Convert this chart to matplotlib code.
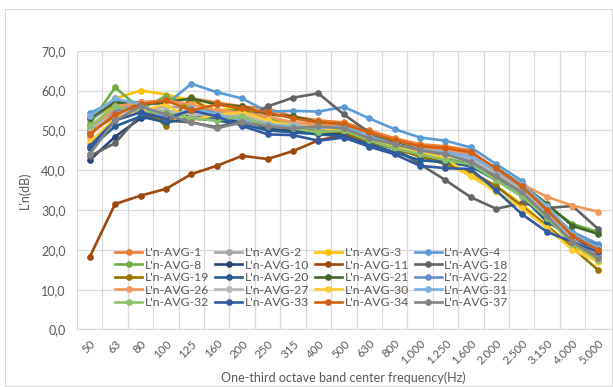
import matplotlib
matplotlib.use("Agg")
import matplotlib.pyplot as plt
from matplotlib.patches import Rectangle

plt.rcParams['font.family'] = ['Lato', 'DejaVu Sans']

freqs = ["50", "63", "80", "100", "125", "160", "200", "250", "315", "400", "500",
         "630", "800", "1.000", "1.250", "1.600", "2.000", "2.500", "3.150", "4.000", "5.000"]

names = ["L'n-AVG-1", "L'n-AVG-2", "L'n-AVG-3", "L'n-AVG-4", "L'n-AVG-8",
         "L'n-AVG-10", "L'n-AVG-11", "L'n-AVG-18", "L'n-AVG-19", "L'n-AVG-20",
         "L'n-AVG-21", "L'n-AVG-22", "L'n-AVG-26", "L'n-AVG-27", "L'n-AVG-30",
         "L'n-AVG-31", "L'n-AVG-32", "L'n-AVG-33", "L'n-AVG-34", "L'n-AVG-37"]

colors = ["#ED7D31", "#A5A5A5", "#FFC000", "#5B9BD5", "#70AD47",
          "#264478", "#9E480E", "#636363", "#997300", "#255E91",
          "#43682B", "#698ED0", "#F1975A", "#B7B7B7", "#FFCD33",
          "#7CAFDD", "#8CC168", "#335AA1", "#D26012", "#848484"]

avg1 = [50.5, 55.5, 57.0, 57.5, 58.0, 57.0, 56.0, 55.5, 53.5, 52.5, 52.0, 50.0, 48.0, 46.5, 46.0, 45.0, 39.5, 35.5, 30.5, 22.0, 19.0]
avg2 = [52.5, 56.5, 55.0, 56.0, 55.5, 54.0, 54.5, 53.0, 52.0, 51.5, 51.0, 49.5, 47.5, 45.5, 44.5, 43.5, 39.5, 35.5, 29.5, 23.0, 19.5]
avg3 = [48.0, 58.0, 60.0, 59.0, 57.5, 55.0, 56.0, 53.0, 51.5, 51.0, 50.5, 48.5, 46.0, 44.0, 42.0, 38.5, 36.0, 31.5, 26.0, 21.0, 17.5]
avg4 = [54.3, 57.5, 57.0, 56.5, 61.7, 59.6, 58.0, 54.7, 54.9, 54.7, 55.9, 53.0, 50.3, 48.2, 47.4, 45.7, 41.5, 37.4, 30.0, 24.5, 21.5]
avg8 = [51.5, 60.8, 55.3, 58.6, 55.5, 54.5, 55.5, 53.0, 51.0, 50.0, 50.5, 48.5, 46.5, 44.5, 43.0, 41.5, 38.0, 35.5, 31.0, 26.5, 24.5]
avg10 = [42.5, 48.4, 53.0, 53.5, 54.0, 53.0, 52.5, 50.5, 50.0, 49.5, 49.0, 47.0, 45.5, 43.5, 42.5, 41.5, 38.5, 34.5, 27.5, 22.5, 20.5]
avg11 = [18.2, 31.5, 33.6, 35.3, 39.0, 41.1, 43.6, 42.8, 44.8, 47.5, 48.8, 47.5, 45.5, 43.5, 42.5, 41.0, 38.0, 34.0, 28.0, 22.5, 18.5]
avg18 = [43.5, 46.8, 54.0, 52.5, 52.0, 50.8, 52.5, 56.0, 58.2, 59.3, 54.0, 49.5, 45.5, 41.5, 37.5, 33.2, 30.3, 31.7, 30.5, 31.0, 25.3]
avg19 = [49.5, 53.5, 57.0, 51.0, 58.3, 53.5, 55.5, 51.5, 50.5, 50.0, 49.5, 47.0, 45.5, 43.5, 41.5, 39.5, 36.0, 31.0, 26.0, 20.5, 15.0]
avg20 = [45.5, 51.0, 53.5, 52.0, 53.0, 52.5, 51.5, 50.0, 49.5, 49.0, 48.5, 46.5, 44.5, 42.5, 42.0, 41.0, 37.5, 33.5, 27.0, 23.5, 21.0]
avg21 = [53.0, 57.0, 56.5, 57.0, 58.0, 56.5, 56.0, 54.0, 53.5, 52.0, 51.5, 49.5, 47.0, 45.0, 44.0, 43.5, 40.5, 36.5, 31.5, 26.0, 24.0]
avg22 = [50.0, 55.0, 56.0, 53.5, 54.5, 55.0, 53.0, 51.5, 51.0, 50.5, 51.0, 48.5, 46.0, 44.5, 44.0, 42.5, 38.5, 34.0, 28.5, 23.0, 21.0]
avg26 = [48.5, 56.0, 57.0, 57.5, 56.5, 55.0, 54.5, 53.5, 52.0, 51.5, 51.5, 49.5, 47.5, 46.0, 45.0, 44.0, 40.0, 36.5, 33.3, 31.1, 29.6]
avg27 = [50.5, 54.0, 55.5, 55.0, 54.0, 53.5, 54.0, 52.0, 51.5, 50.5, 50.0, 48.0, 46.5, 45.0, 44.5, 43.0, 39.0, 35.0, 29.0, 22.5, 19.0]
avg30 = [47.0, 53.0, 55.0, 56.5, 52.5, 54.0, 54.5, 52.5, 51.0, 50.5, 50.0, 48.0, 46.0, 44.5, 43.0, 38.5, 34.5, 30.5, 25.5, 20.0, 17.0]
avg31 = [53.5, 58.0, 56.5, 53.0, 55.5, 54.0, 52.5, 51.5, 51.0, 50.5, 51.0, 48.5, 46.5, 45.0, 44.5, 43.5, 40.0, 36.5, 31.0, 24.0, 20.5]
avg32 = [51.0, 56.0, 54.5, 54.5, 53.0, 52.5, 53.5, 51.0, 50.5, 49.5, 50.0, 47.5, 45.5, 44.0, 42.5, 41.5, 37.5, 33.5, 28.0, 21.5, 17.5]
avg33 = [46.0, 52.5, 54.5, 53.0, 55.0, 53.5, 51.1, 49.0, 48.8, 47.4, 48.2, 45.9, 44.0, 41.1, 40.5, 40.3, 34.9, 29.0, 24.5, 22.0, 19.5]
avg34 = [49.0, 54.0, 56.5, 57.5, 55.0, 56.5, 55.5, 54.5, 53.0, 52.0, 51.5, 49.5, 47.5, 46.0, 45.5, 44.5, 40.5, 36.0, 30.0, 23.5, 20.0]
avg37 = [44.0, 52.5, 56.0, 54.0, 52.0, 50.5, 52.0, 51.0, 50.5, 51.0, 50.5, 48.0, 46.5, 45.0, 44.0, 42.0, 38.5, 34.5, 28.5, 22.0, 18.0]

series = [avg1, avg2, avg3, avg4, avg8, avg10, avg11, avg18, avg19, avg20,
          avg21, avg22, avg26, avg27, avg30, avg31, avg32, avg33, avg34, avg37]

text_col = "#595959"
grid_col = "#D9D9D9"

fig = plt.figure(figsize=(6.13, 3.87), dpi=100)
ax = fig.add_axes([0.1256, 0.1486, 0.8705, 0.7204])

# chart border
fig.patches.append(Rectangle((5 / 613, 1 / 387), 607 / 613, 377 / 387, transform=fig.transFigure,
                             fill=False, edgecolor=grid_col, linewidth=0.8))

x = list(range(len(freqs)))
handles = []
for name, col, vals in zip(names, colors, series):
    h, = ax.plot(x, vals, color=col, lw=1.9, marker='o', ms=3.8, label=name)
    handles.append(h)

ax.set_xlim(-0.5, len(freqs) - 0.5)
ax.set_ylim(0, 70)
ax.set_yticks(range(0, 71, 10))
ax.set_yticklabels([f"{v},0" for v in range(0, 71, 10)])
ax.set_xticks(x)
ax.set_xticklabels(freqs, rotation=45, ha='right', rotation_mode='anchor')
ax.set_xticks([i - 0.5 for i in range(len(freqs) + 1)], minor=True)
ax.tick_params(axis='both', which='both', length=0, colors=text_col)
ax.tick_params(axis='y', pad=8, labelsize=9)
ax.tick_params(axis='x', pad=6, labelsize=8.3)
ax.grid(axis='y', which='major', color=grid_col, lw=0.9)
ax.grid(axis='x', which='minor', color=grid_col, lw=0.9)
ax.set_axisbelow(True)
for s in ['top', 'right', 'left']:
    ax.spines[s].set_visible(False)
ax.spines['bottom'].set_color(grid_col)

ax.set_ylabel("L'n(dB)", color=text_col, fontsize=9)
ax.set_xlabel("One-third octave band center frequency(Hz)", color=text_col, fontsize=9, va='center')
ax.yaxis.set_label_coords(-0.086, 0.5)
ax.xaxis.set_label_coords(0.5, -0.174)

# legend laid out row by row, 4 columns
ncol, nrow = 4, 5
order = [r * ncol + c for c in range(ncol) for r in range(nrow)]
leg = ax.legend([handles[i] for i in order], [names[i] for i in order], ncol=ncol,
                loc='upper left', bbox_to_anchor=(0.072, 0.295), frameon=False,
                fontsize=8.8, handlelength=2.2, handletextpad=0.2, columnspacing=0.5,
                labelspacing=0.12, borderaxespad=0, borderpad=0)
for t in leg.get_texts():
    t.set_color(text_col)

fig.savefig("out.png", dpi=100)
